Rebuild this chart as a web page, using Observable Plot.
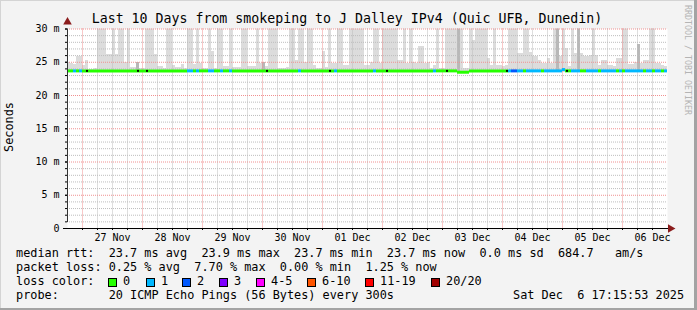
<!DOCTYPE html>
<html><head><meta charset="utf-8">
<script src="https://cdn.jsdelivr.net/npm/d3@7"></script>
<script src="https://cdn.jsdelivr.net/npm/@observablehq/plot@0.6"></script>
<style>
html,body{margin:0;padding:0;background:#f3f3f3;}
#wrap{position:relative;width:697px;height:310px;background:#f3f3f3;overflow:hidden;font-family:"DejaVu Sans Mono",monospace;color:#000;
  box-shadow: inset -3px -2px 0 #a3a3a3, inset 1px 1px 0 #d4d4d4;}
#wrap svg{position:absolute;left:0;top:0;}
.t{position:absolute;white-space:pre;line-height:1;}
.box{position:absolute;width:7px;height:7px;border:1px solid #000;}
</style></head><body><div id="wrap"></div>
<script>
// ---------- data ----------
const title = "Last 10 Days from smokeping to J Dalley IPv4 (Quic UFB, Dunedin)";
// one value per 72-minute step, Nov 26 18:00 .. Dec 6 18:00 (ms, >30 = clipped)
const smokeMax = [
 25.0,24.8,24.7,25.9,25.9,24.5,25.3,23.9,23.9,24.0,
 31,31,31,26.2,26.2,31,26.2,31,31,25.0,
 31,24.2,24.2,24.9,24.0,24.0,31,31,31,26.2,
 24.3,24.3,24.0,31,31,24.5,24.2,24.2,24.6,24.0,
 31,31,24.7,31,24.8,24.0,24.0,31,26.6,24.0,
 31,31,24.3,24.3,31,24.2,24.2,24.2,31,31,
 24.3,24.3,24.3,31,24.8,25.0,24.3,31,31,31,
 24.0,24.0,24.0,24.2,31,31,25.3,31,31,25.0,
 31,31,24.5,24.0,24.0,26.6,24.2,31,24.8,24.8,
 31,31,24.5,24.5,31,31,31,31,31,24.5,
 24.5,25.0,31,31,24.8,31,31,31,31,31,
 25.3,25.3,31,24.8,31,25.0,24.8,27.3,27.3,24.8,
 25.0,24.0,24.5,31,24.0,24.0,31,31,31,31,
 24.0,31,24.0,24.0,31,28.3,31,31,31,31,
 25.5,24.5,31,24.5,24.5,24.3,24.5,31,31,31,
 26.3,26.3,31,31,26.5,25.8,25.8,25.2,24.8,24.8,
 25.5,24.8,31,31,25.8,31,27.0,24.3,31,26.3,
 31,26.3,25.8,25.8,26.0,31,26.0,24.5,25.3,25.3,
 24.5,24.5,24.3,25.5,25.5,31,31,24.7,24.7,25.0,
 27.7,24.8,25.2,25.2,31,31,24.8,24.8,24.5,24.3
];
const smokeMin = 23.5;
const darkSlot = [23, 65, 130, 163, 170, 190];
const darkMax  = [24.9, 25.0, 31, 31, 31, 27.7];
// median line segments (step index ranges) with loss bucket
const segStart  = [0,2,3,4,5,40,42,43,44,47,49,51,52,54,55,77,78,89,90,102,103,122,123,130,134,147,148,150,152,153,158,159,165,166,168,171,173,177,178,183,184,185,186,192,193,195,196,198,199];
const segLoss   = [0,1,0,1,0,1,0,1,0,1,0,1,0,1,0,1,0,1,0,1,0,1,0,0,0,1,2,1,0,1,0,1,1,0,1,0,1,0,1,0,1,0,1,0,1,0,1,0,1];
const segMedian = [23.7,23.7,23.7,23.7,23.7,23.7,23.7,23.7,23.7,23.7,23.7,23.7,23.7,23.7,23.7,23.7,23.7,23.7,23.7,23.7,23.7,23.7,23.7,23.5,23.7,23.7,23.7,23.7,23.7,23.7,23.7,23.7,23.9,23.7,23.7,23.7,23.7,23.7,23.7,23.7,23.7,23.7,23.7,23.7,23.7,23.7,23.7,23.7,23.7];
const dotSlot = [6, 23, 26, 66, 87, 106, 126, 146, 166];
const lossLabels = ["0","1","2","3","4-5","6-10","11-19","20/20"];
const lossColors = ["#26ff00","#00b8ff","#0059ff","#7e00ff","#ff00ff","#ff5500","#ff0000","#a10000"];
const yTicks = [0,5,10,15,20,25,30];
const yTickLabels = ["0","5 m","10 m","15 m","20 m","25 m","30 m"];
const legendRows = [
 "median rtt:  23.7 ms avg  23.9 ms max  23.7 ms min  23.7 ms now  0.0 ms sd  684.7   am/s",
 "packet loss: 0.25 % avg  7.70 % max  0.00 % min  1.25 % now",
 "loss color:",
 "probe:       20 ICMP Echo Pings (56 Bytes) every 300s"
];
const stamp = "Sat Dec  6 17:15:53 2025";
const yLabel = "Seconds";
const watermark = "RRDTOOL / TOBI OETIKER";

// ---------- build ----------
const t0 = Date.UTC(2025,10,26,18);
const step = 72*60*1000;
const T = i => new Date(t0 + i*step);
const nSteps = smokeMax.length;
const xDomain = [T(0), T(nSteps)];
const smoke = smokeMax.map((v,i)=>({i, v}));
const dark = darkSlot.map((s,k)=>({i:s, v:darkMax[k]}));
const segs = segStart.map((s,k)=>({s, e: k+1<segStart.length?segStart[k+1]:nSteps, loss:segLoss[k], m:segMedian[k]}));
const H = 3600e3;
const sixH = d3.range(1,40).map(k=>new Date(t0 + k*6*H));
const midnights = sixH.filter(d=>d.getUTCHours()===0);
const minorX = sixH.filter(d=>d.getUTCHours()!==0);
const noon = d3.range(10).map(k=>new Date(t0 + (18+24*k)*H));
const minorY = d3.range(1,30).filter(v=>v%5);
const majorY = yTicks.filter(v=>v>0);

const plot = Plot.plot({
  width: 697, height: 245,
  marginLeft: 67, marginRight: 30, marginTop: 28.5, marginBottom: 17,
  x: {type:"utc", domain: xDomain, label: null},
  y: {domain:[0,30], label: null},
  style: {fontFamily:"DejaVu Sans Mono, monospace", fontSize:"10px", color:"#000", background:"transparent"},
  marks: [
    Plot.frame({fill:"white", stroke:null}),
    Plot.rect(smoke, {x1:d=>T(d.i), x2:d=>T(d.i+1), y1:smokeMin, y2:d=>d.v, fill:"#dcdcdc", clip:true, shapeRendering:"crispEdges"}),
    Plot.rect(dark, {x1:d=>T(d.i), x2:d=>T(d.i+1), y1:smokeMin, y2:d=>d.v, fill:"#b8b8b8", clip:true, shapeRendering:"crispEdges"}),
    Plot.ruleY(minorY, {stroke:"#bdbdbd", strokeDasharray:"1,1"}),
    Plot.ruleX(minorX, {stroke:"#bdbdbd", strokeDasharray:"1,1"}),
    Plot.ruleY(majorY, {stroke:"#f09090", strokeDasharray:"1,1"}),
    Plot.ruleX(midnights, {stroke:"#f09090", strokeDasharray:"1,1"}),
    Plot.ruleY(segs, {x1:d=>T(d.s), x2:d=>T(d.e), y:"m", stroke:d=>lossColors[d.loss], strokeWidth:3}),
    Plot.dot(dotSlot, {x:d=>T(d+0.5), y:23.7, r:1.1, fill:"#000", stroke:null}),
    Plot.axisY({ticks: d3.range(0,31), tickSize:2, tickFormat:()=>"", stroke:"#000", label:null}),
    Plot.axisY({ticks: yTicks, tickSize:2, tickPadding:6, tickFormat:(d)=>yTickLabels[yTicks.indexOf(d)], fill:"#000", label:null}),
    Plot.axisX({ticks: sixH, tickSize:2, tickFormat:()=>"", stroke:"#000", label:null}),
    Plot.axisX({ticks: noon, tickSize:0, tickPadding:5, tickFormat:d3.utcFormat("%d %b"), fill:"#000", label:null}),
    Plot.ruleX([xDomain[0]], {y1:0, y2:30, insetTop:-6, stroke:"#333"}),
    Plot.ruleY([0], {x1:xDomain[0], x2:xDomain[1], insetLeft:-4, insetRight:-2, stroke:"#000"}),
    Plot.dot([0], {x:xDomain[0], y:30, dy:-7, symbol:"triangle", r:3.2, fill:"#8b1c1c", stroke:null}),
    Plot.dot([0], {x:xDomain[1], y:0, dx:3, symbol:"triangle", rotate:90, r:3.2, fill:"#8b1c1c", stroke:null})
  ]
});
const wrap = document.getElementById("wrap");
wrap.appendChild(plot);

function addText(txt, left, top, size, extra){
  const d = document.createElement("div");
  d.className = "t";
  d.textContent = txt;
  d.style.left = left+"px"; d.style.top = top+"px"; d.style.fontSize = size+"px";
  if (extra) Object.assign(d.style, extra);
  wrap.appendChild(d);
  return d;
}
// title
addText(title, 0, 12.3, 13.25, {width:"694px", textAlign:"center"});
// y label
addText(yLabel, 10, 127, 11.85, {transform:"translate(-50%,-50%) rotate(-90deg)"});
// watermark
addText(watermark, 684, 5, 8.3, {writingMode:"vertical-rl", color:"#b4b4b4"});
// legend rows
const fs = 11.85;
const rowTop = [248.0, 262.4, 276.0, 290.1];
legendRows.forEach((r,k)=>addText(r, 16, rowTop[k], fs));
addText(stamp, 513, rowTop[3], fs);
// loss colour boxes
const boxX = [108,146,182,219,256,307,365,431];
lossLabels.forEach((lab,k)=>{
  const b = document.createElement("div");
  b.className="box"; b.style.left=boxX[k]+"px"; b.style.top="277.5px"; b.style.background=lossColors[k];
  wrap.appendChild(b);
  addText(lab, boxX[k]+15, rowTop[2], fs);
});
</script></body></html>
